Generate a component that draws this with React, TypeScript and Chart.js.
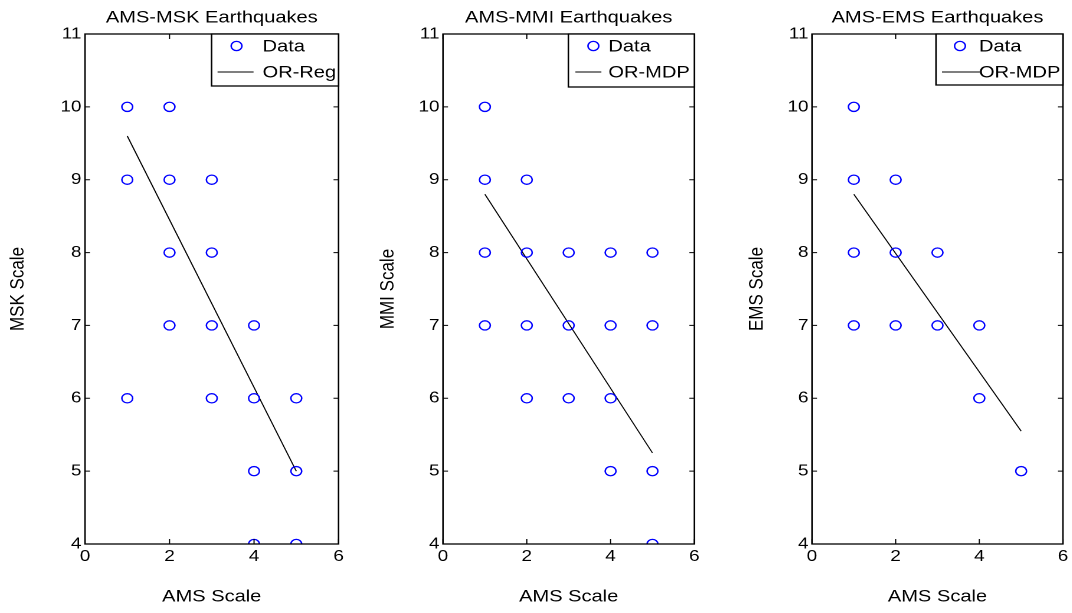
import React, { useEffect, useRef } from "react";
import { Chart, registerables } from "chart.js";

Chart.register(...registerables);

// ---------- data ----------
const xTickValues = [0, 2, 4, 6];
const yTickValues = [4, 5, 6, 7, 8, 9, 10, 11];

const mskX = [1, 2, 1, 2, 3, 2, 3, 2, 3, 4, 1, 3, 4, 5, 4, 5, 4, 5];
const mskY = [10, 10, 9, 9, 9, 8, 8, 7, 7, 7, 6, 6, 6, 6, 5, 5, 4, 4];
const mskFitX = [1, 5];
const mskFitY = [9.6, 5.0];

const mmiX = [1, 1, 2, 1, 2, 3, 4, 5, 1, 2, 3, 4, 5, 2, 3, 4, 4, 5, 5];
const mmiY = [10, 9, 9, 8, 8, 8, 8, 8, 7, 7, 7, 7, 7, 6, 6, 6, 5, 5, 4];
const mmiFitX = [1, 5];
const mmiFitY = [8.8, 5.25];

const emsX = [1, 1, 2, 1, 2, 3, 1, 2, 3, 4, 4, 5];
const emsY = [10, 9, 9, 8, 8, 8, 7, 7, 7, 7, 6, 5];
const emsFitX = [1, 5];
const emsFitY = [8.8, 5.55];

const panelTitles = ["AMS-MSK Earthquakes", "AMS-MMI Earthquakes", "AMS-EMS Earthquakes"];
const yAxisTitles = ["MSK Scale", "MMI Scale", "EMS Scale"];
const xAxisTitle = "AMS Scale";
const dataLabel = "Data";
const fitLabels = ["OR-Reg", "OR-MDP", "OR-MDP"];

// ---------- layout ----------
const S = 1.18; // horizontal stretch of the reference
const H = 613;
const FONT = "Arial, 'Liberation Sans', Helvetica, sans-serif";

type Geo = {
  canvasLeft: number;
  canvasRight: number;
  plotLeft: number;
  plotRight: number;
  legend: { w: number; h: number; marker: number; lineFrom: number; lineTo: number; text: number };
};

const geos: Geo[] = [
  { canvasLeft: 0, canvasRight: 357, plotLeft: 85, plotRight: 338,
    legend: { w: 127, h: 52, marker: 25, lineFrom: 6, lineTo: 42, text: 51 } },
  { canvasLeft: 370, canvasRight: 726, plotLeft: 443, plotRight: 694,
    legend: { w: 126, h: 53, marker: 25, lineFrom: 7, lineTo: 33, text: 40 } },
  { canvasLeft: 739, canvasRight: 1072, plotLeft: 812, plotRight: 1064,
    legend: { w: 127, h: 51, marker: 24, lineFrom: 6, lineTo: 44, text: 43 } },
];
const PLOT_TOP = 34;
const PLOT_BOTTOM = 544;

const decorPlugin = {
  id: "decor",
  afterDraw(chart: any, _args: any, opts: any) {
    const { ctx, chartArea: a, scales } = chart;
    const g: Geo = opts.geo;
    ctx.save();
    ctx.strokeStyle = "#000";
    ctx.lineWidth = 1;
    // ticks (inward, all four sides)
    const tlV = 5;
    const tlH = 5 / S;
    ctx.beginPath();
    xTickValues.forEach((v) => {
      const px = scales.x.getPixelForValue(v);
      ctx.moveTo(px, a.bottom);
      ctx.lineTo(px, a.bottom - tlV);
      ctx.moveTo(px, a.top);
      ctx.lineTo(px, a.top + tlV);
    });
    yTickValues.forEach((v) => {
      const py = scales.y.getPixelForValue(v);
      ctx.moveTo(a.left, py);
      ctx.lineTo(a.left + tlH, py);
      ctx.moveTo(a.right, py);
      ctx.lineTo(a.right - tlH, py);
    });
    ctx.stroke();
    ctx.lineWidth = 1.3;
    ctx.strokeRect(a.left, a.top, a.right - a.left, a.bottom - a.top);

    // title
    ctx.fillStyle = "#000";
    ctx.font = `17px ${FONT}`;
    ctx.textAlign = "center";
    ctx.textBaseline = "middle";
    ctx.fillText(opts.title, (a.left + a.right) / 2, 18);

    // legend
    const L = g.legend;
    const bw = L.w / S;
    const bx = a.right - bw;
    const by = a.top;
    ctx.fillStyle = "#fff";
    ctx.fillRect(bx, by, bw, L.h);
    ctx.lineWidth = 1.3;
    ctx.strokeStyle = "#000";
    ctx.strokeRect(bx, by, bw, L.h);
    const ds0 = chart.data.datasets[0];
    const ds1 = chart.data.datasets[1];
    const r1 = by + 12;
    const r2 = by + 38;
    ctx.beginPath();
    ctx.strokeStyle = ds0.borderColor;
    ctx.lineWidth = ds0.borderWidth;
    ctx.arc(bx + L.marker / S, r1, ds0.pointRadius, 0, Math.PI * 2);
    ctx.stroke();
    ctx.beginPath();
    ctx.strokeStyle = ds1.borderColor;
    ctx.lineWidth = 1;
    ctx.moveTo(bx + L.lineFrom / S, r2);
    ctx.lineTo(bx + L.lineTo / S, r2);
    ctx.stroke();
    ctx.fillStyle = "#000";
    ctx.font = `17px ${FONT}`;
    ctx.textAlign = "left";
    ctx.textBaseline = "middle";
    ctx.fillText(ds0.label, bx + L.text / S, r1 + 1);
    ctx.fillText(ds1.label, bx + L.text / S, r2 + 1);
    ctx.restore();
  },
};

function Panel(props: {
  idx: number;
  xs: number[];
  ys: number[];
  fitX: number[];
  fitY: number[];
}) {
  const ref = useRef<HTMLCanvasElement>(null);
  const g = geos[props.idx];
  const w = Math.round((g.canvasRight - g.canvasLeft) / S);

  useEffect(() => {
    if (!ref.current) return;
    const chart = new Chart(ref.current, {
      type: "scatter",
      data: {
        datasets: [
          {
            label: dataLabel,
            data: props.xs.map((x, i) => ({ x, y: props.ys[i] })),
            borderColor: "#0000ff",
            backgroundColor: "rgba(0,0,0,0)",
            borderWidth: 1.3,
            pointRadius: 4.6,
            pointHoverRadius: 4.6,
          } as any,
          {
            type: "line",
            label: fitLabels[props.idx],
            data: props.fitX.map((x, i) => ({ x, y: props.fitY[i] })),
            borderColor: "#000",
            borderWidth: 1,
            pointRadius: 0,
            fill: false,
          } as any,
        ],
      },
      options: {
        responsive: false,
        animation: false,
        devicePixelRatio: 2,
        events: [],
        layout: {
          padding: { top: PLOT_TOP, left: 0, bottom: 0, right: (g.canvasRight - g.plotRight) / S },
        },
        plugins: {
          legend: { display: false },
          title: { display: false },
          tooltip: { enabled: false },
          decor: { geo: g, title: panelTitles[props.idx] },
        } as any,
        scales: {
          x: {
            type: "linear",
            min: 0,
            max: 6,
            afterBuildTicks: (s: any) => {
              s.ticks = xTickValues.map((v) => ({ value: v }));
            },
            afterFit: (s: any) => {
              s.height = H - PLOT_BOTTOM;
            },
            grid: { display: false, drawTicks: false },
            border: { display: false },
            ticks: { color: "#000", font: { family: FONT, size: 16 }, padding: 3, maxRotation: 0 },
            title: {
              display: true,
              text: xAxisTitle,
              color: "#000",
              font: { family: FONT, size: 17 },
              padding: { top: 0, bottom: 6 },
            },
          },
          y: {
            type: "linear",
            min: 4,
            max: 11,
            afterBuildTicks: (s: any) => {
              s.ticks = yTickValues.map((v) => ({ value: v }));
            },
            afterFit: (s: any) => {
              s.width = (g.plotLeft - g.canvasLeft) / S;
            },
            grid: { display: false, drawTicks: false },
            border: { display: false },
            ticks: { color: "#000", font: { family: FONT, size: 16 }, padding: 3 },
            title: {
              display: true,
              text: yAxisTitles[props.idx],
              color: "#000",
              font: { family: FONT, size: 17 },
              padding: { top: 5, bottom: 0 },
            },
          },
        },
      },
      plugins: [decorPlugin],
    });
    return () => chart.destroy();
  }, []);

  return (
    <div
      style={{
        position: "absolute",
        left: g.canvasLeft,
        top: 0,
        width: w,
        height: H,
        transform: `scaleX(${S})`,
        transformOrigin: "0 0",
      }}
    >
      <canvas ref={ref} width={w} height={H} />
    </div>
  );
}

export default function App() {
  return (
    <div style={{ position: "absolute", left: 0, top: 0, width: 1072, height: H, background: "#fff", overflow: "hidden" }}>
      <Panel idx={0} xs={mskX} ys={mskY} fitX={mskFitX} fitY={mskFitY} />
      <Panel idx={1} xs={mmiX} ys={mmiY} fitX={mmiFitX} fitY={mmiFitY} />
      <Panel idx={2} xs={emsX} ys={emsY} fitX={emsFitX} fitY={emsFitY} />
    </div>
  );
}
